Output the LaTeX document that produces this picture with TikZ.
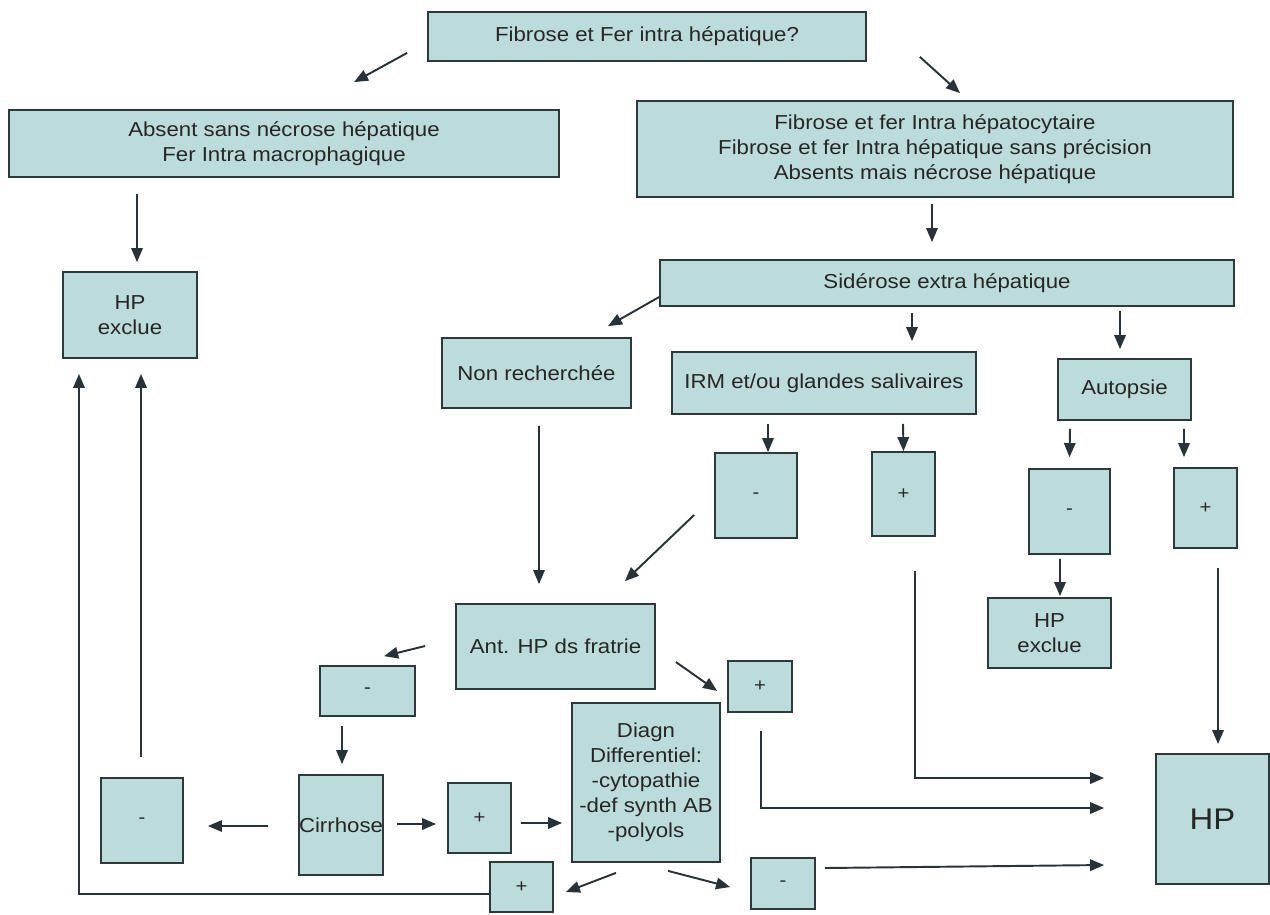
\documentclass[tikz,border=0pt]{standalone}
\usepackage{fontspec}
\setmainfont[FakeStretch=1.1]{Liberation Sans}
\usetikzlibrary{arrows.meta,calc}
\definecolor{boxfill}{RGB}{188,219,219}
\definecolor{boxline}{RGB}{45,58,60}
\definecolor{arrowcol}{RGB}{40,50,55}

\begin{document}
\begin{tikzpicture}[x=0.02cm,y=-0.02cm,
    cella/.style 2 args={draw=boxline,fill=boxfill,line width=1pt,align=center,
        inner sep=0pt,minimum width=#1*0.02cm,minimum height=#2*0.02cm,
        text=black!85,font=\fontsize{11.5}{14.2}\selectfont},
    esito/.style 2 args={cella={#1}{#2},font=\fontsize{10.5}{12}\selectfont},
    freccia/.style={arrowcol,line width=1.1pt,-{Triangle[length=8pt,width=6.5pt]}}]
    \useasboundingbox (0,0) rectangle (1270,914);

    % Disegna le caselle principali
    \node[cella={438}{49}] (q) at (647,36.5) {Fibrose et Fer intra hépatique?};
    \node[cella={550}{67}] (absent) at (284,143.5) {Absent sans nécrose hépatique\\Fer Intra macrophagique};
    \node[cella={596}{96}] (fibr) at (935,149) {Fibrose et fer Intra hépatocytaire\\Fibrose et fer Intra hépatique sans précision\\Absents mais nécrose hépatique};
    \node[cella={134}{86}] (hpx1) at (130,315) {HP\\exclue};
    \node[cella={574}{46}] (sider) at (947,283) {Sidérose extra hépatique};
    \node[cella={189}{70}] (nonrech) at (536.5,373) {Non recherchée};
    \node[cella={304}{62}] (irm) at (824,383) {IRM et/ou glandes salivaires};
    \node[cella={133}{61}] (autop) at (1124.5,389.5) {Autopsie};
    \node[cella={123}{70}] (hpx2) at (1049.5,633) {HP\\exclue};
    \node[cella={199}{85}] (ant) at (555.5,646.5) {Ant. HP ds fratrie};
    \node[cella={148}{159}] (diagn) at (646,782.5) {Diagn\\Differentiel:\\-cytopathie\\-def synth AB\\-polyols};
    \node[cella={82}{100}] (cirr) at (341,825) {Cirrhose};
    \node[cella={113}{130},font=\fontsize{17}{20}\selectfont] (hp) at (1212.5,819) {HP};

    % Caselle con i segni
    \node[esito={82}{85}] (irmneg) at (756,495.5) {-};
    \node[esito={63}{84}] (irmpos) at (903.5,494) {+};
    \node[esito={81}{85}] (autneg) at (1069.5,511.5) {-};
    \node[esito={63}{80}] (autpos) at (1205.5,508) {+};
    \node[esito={95}{50}] (antneg) at (367.5,691) {-};
    \node[esito={64}{51}] (antpos) at (760,686.5) {+};
    \node[esito={82}{85}] (cirneg) at (142,820.5) {-};
    \node[esito={63}{70}] (cirpos) at (479.5,818) {+};
    \node[esito={63}{50}] (dpos) at (521.5,887) {+};
    \node[esito={64}{51}] (dneg) at (783,883.5) {-};

    % Frecce della parte alta
    \draw[freccia] ($(q.south west)+(-20,-9)$) -- ($(absent.north)+(70,-27)$);
    \draw[freccia] ($(q.south east)+(53,-5)$) -- ($(fibr.north)+(25,-7)$);
    \draw[freccia] ($(absent.south)+(-147,16)$) -- ($(hpx1.north)+(7,-9)$);
    \draw[freccia] ($(fibr.south)+(-3,6)$) -- ($(sider.north)+(-15,-17)$);
    \draw[freccia] ($(sider.west)+(0,14)$) -- ($(nonrech.north)+(71.5,-11)$);
    \draw[freccia] ($(sider.south)+(-35,6)$) -- ($(irm.north)+(88,-10)$);
    \draw[freccia] ($(sider.south)+(173,4)$) -- ($(autop.north)+(-4.5,-9)$);
    \draw[freccia] ($(irm.south)+(-56,9)$) -- ($(irmneg.north)+(12,0)$);
    \draw[freccia] ($(irm.south)+(79,9)$) -- (irmpos.north);
    \draw[freccia] ($(autop.south)+(-54.5,8)$) -- ($(autneg.north)+(0,-11)$);
    \draw[freccia] ($(autop.south)+(59.5,8)$) -- ($(autpos.north)+(-21.5,-10)$);
    \draw[freccia] ($(autneg.south)+(-9.5,4)$) -- ($(hpx2.north)+(10.5,-1)$);
    \draw[freccia] ($(autpos.south)+(12.5,19)$) -- ($(hp.north)+(5.5,-9)$);

    % Frecce verso Ant. HP e Cirrhose
    \draw[freccia] ($(nonrech.south)+(2.5,17)$) -- ($(ant.north)+(-16.5,-19)$);
    \draw[freccia] ($(irmneg.west)+(-20,19.5)$) -- ($(ant.north east)+(-31,-22)$);
    \draw[freccia] ($(ant.west)+(-30,-0.5)$) -- ($(antneg.north)+(16.5,-9)$);
    \draw[freccia] ($(ant.east)+(20,15.5)$) -- ($(antpos.west)+(-10,4.5)$);
    \draw[freccia] ($(antneg.south)+(-25.5,9)$) -- ($(cirr.north)+(1,-10)$);
    \draw[freccia] ($(cirr.west)+(-30,1)$) -- ($(cirneg.east)+(24,5.5)$);
    \draw[freccia] ($(cirr.east)+(13,-1)$) -- ($(cirpos.west)+(-11,6)$);
    \draw[freccia] ($(cirpos.east)+(9,5)$) -- ($(diagn.west)+(-9,40.5)$);
    \draw[freccia] ($(diagn.south)+(-30,10)$) -- ($(dpos.east)+(12,5)$);
    \draw[freccia] ($(diagn.south)+(22,8)$) -- ($(dneg.west)+(-20,3.5)$);

    % Frecce verso HP e HP exclue
    \draw[freccia] ($(dneg.east)+(9,-15.5)$) -- ($(hp.west)+(-51,46)$);
    \draw[freccia] ($(irmpos.south)+(11.5,34)$) |- ($(hp.west)+(-51,-41)$);
    \draw[freccia] ($(antpos.south)+(1,18)$) |- ($(hp.west)+(-51,-11)$);
    \draw[freccia] ($(cirneg.north)+(-1,-20)$) -- ($(hpx1.south)+(11,15)$);
    \draw[freccia] ($(dpos.west)+(0,7)$) -| ($(hpx1.south)+(-51,15)$);

\end{tikzpicture}
\end{document}
